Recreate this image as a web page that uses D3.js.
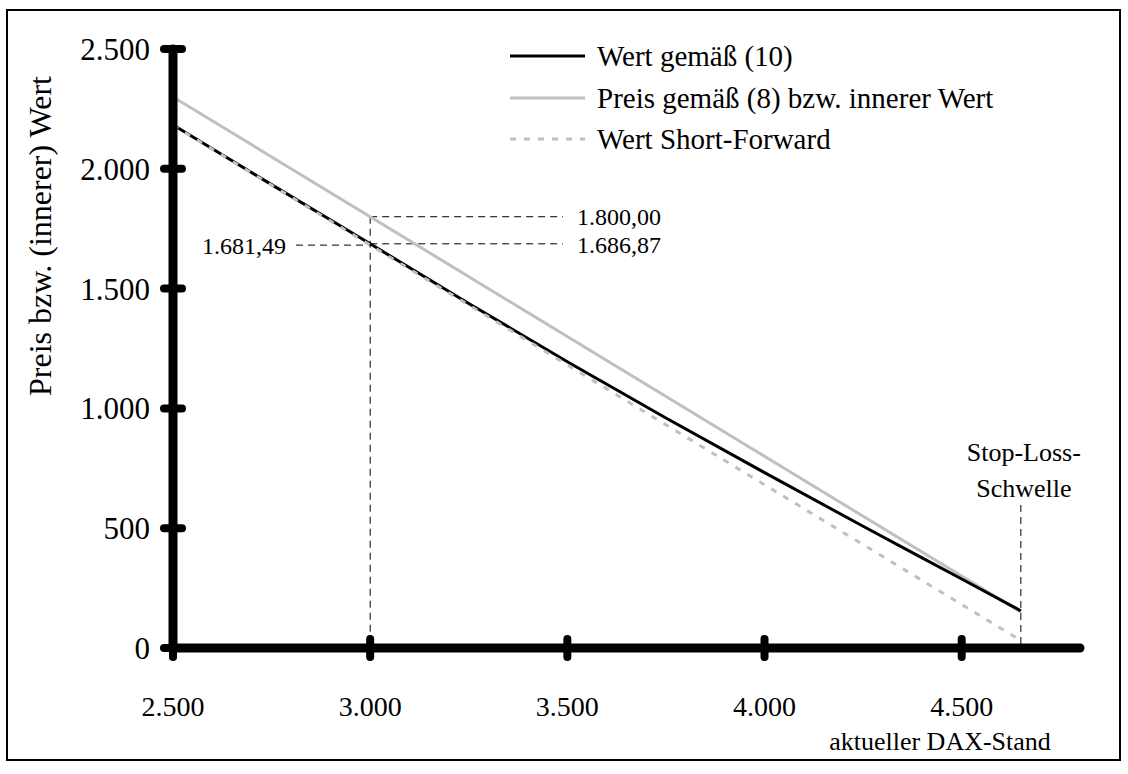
<!DOCTYPE html>
<html><head><meta charset="utf-8">
<script src="https://cdn.jsdelivr.net/npm/d3@7"></script>
<style>body{margin:0;background:#fff}svg{display:block}text{font-family:"Liberation Serif","Times New Roman",serif;fill:#000}</style>
</head><body><svg id="c" width="1128" height="774"></svg>
<script>
// data
const xTicks = [2500, 3000, 3500, 4000, 4500];
const xTickLabels = ["2.500", "3.000", "3.500", "4.000", "4.500"];
const yTicks = [0, 500, 1000, 1500, 2000, 2500];
const yTickLabels = ["0", "500", "1.000", "1.500", "2.000", "2.500"];
const daxWert10 = [2500, 2750, 3000, 3250, 3500, 3750, 4000, 4250, 4500, 4650];
const wert10 = [2183, 1934, 1686.87, 1438, 1195, 960, 732, 508, 288, 155];
const daxPreis8 = [2500, 4650];
const preis8 = [2300, 150];
const daxForward = [2500, 4650];
const shortForward = [2181.49, 31.49];
const seriesNames = ["Wert gemäß (10)", "Preis gemäß (8) bzw. innerer Wert", "Wert Short-Forward"];
const markX = 3000, markPrice = 1800.00, markWert = 1686.87, markFwd = 1681.49;
const markLabels = ["1.800,00", "1.686,87", "1.681,49"];
const stopLoss = 4650;

const svg = d3.select("#c");
svg.append("rect").attr("x", 7).attr("y", 10).attr("width", 1113).attr("height", 750)
  .attr("fill", "none").attr("stroke", "#000").attr("stroke-width", 2);

const x = d3.scaleLinear().domain([2500, 4800]).range([173, 1080]);
const y = d3.scaleLinear().domain([0, 2500]).range([648, 49]);

// annotation dashed lines
const ann = svg.append("g").attr("stroke", "#000").attr("stroke-width", 1).attr("stroke-dasharray", "7,5").attr("fill", "none");
ann.append("line").attr("x1", x(markX)).attr("x2", x(markX)).attr("y1", y(markPrice)).attr("y2", y(0));
ann.append("line").attr("x1", x(markX)).attr("x2", 563).attr("y1", y(markPrice)).attr("y2", y(markPrice));
ann.append("line").attr("x1", x(markX)).attr("x2", 563).attr("y1", y(markWert)).attr("y2", y(markWert));
ann.append("line").attr("x1", 296).attr("x2", x(markX)).attr("y1", y(markFwd)).attr("y2", y(markFwd));
ann.append("line").attr("x1", x(stopLoss)).attr("x2", x(stopLoss)).attr("y1", 505).attr("y2", y(0));

// series
const line = d3.line().x(d => x(d[0])).y(d => y(d[1]));
const zip = (a, b) => a.map((v, i) => [v, b[i]]);
svg.append("path").datum(zip(daxPreis8, preis8)).attr("d", line)
  .attr("fill", "none").attr("stroke", "#c0c0c0").attr("stroke-width", 3);
svg.append("path").datum(zip(daxWert10, wert10)).attr("d", d3.line().x(d => x(d[0])).y(d => y(d[1])).curve(d3.curveMonotoneX))
  .attr("fill", "none").attr("stroke", "#000").attr("stroke-width", 3);
svg.append("path").datum(zip(daxForward, shortForward)).attr("d", line)
  .attr("fill", "none").attr("stroke", "#c0c0c0").attr("stroke-width", 3).attr("stroke-dasharray", "6,8");

// axes
const axG = svg.append("g").attr("stroke", "#000").attr("stroke-linecap", "round");
axG.append("line").attr("x1", x(2500)).attr("x2", x(2500)).attr("y1", y(2500)).attr("y2", y(0)).attr("stroke-width", 9);
axG.append("line").attr("x1", x(2500)).attr("x2", x(4800)).attr("y1", y(0)).attr("y2", y(0)).attr("stroke-width", 9);
axG.selectAll(".yt").data(yTicks).enter().append("line")
  .attr("x1", x(2500) - 9).attr("x2", x(2500) + 9).attr("y1", d => y(d)).attr("y2", d => y(d)).attr("stroke-width", 8);
axG.selectAll(".xt").data(xTicks).enter().append("line")
  .attr("x1", d => x(d)).attr("x2", d => x(d)).attr("y1", y(0) - 9).attr("y2", y(0) + 9).attr("stroke-width", 8);

svg.selectAll(".ytl").data(yTicks).enter().append("text")
  .attr("x", 150).attr("y", d => y(d) + 11).attr("text-anchor", "end").attr("font-size", 31)
  .text((d, i) => yTickLabels[i]);
svg.selectAll(".xtl").data(xTicks).enter().append("text")
  .attr("x", d => x(d)).attr("y", 716).attr("text-anchor", "middle").attr("font-size", 28)
  .text((d, i) => xTickLabels[i]);

svg.append("text").attr("transform", "translate(51,236) rotate(-90)").attr("text-anchor", "middle")
  .attr("font-size", 32).text("Preis bzw. (innerer) Wert");
svg.append("text").attr("x", 940).attr("y", 750).attr("text-anchor", "middle").attr("font-size", 26)
  .text("aktueller DAX-Stand");

// annotation labels
svg.append("text").attr("x", 577).attr("y", y(markPrice) + 8).attr("font-size", 24).text(markLabels[0]);
svg.append("text").attr("x", 577).attr("y", y(markWert) + 9).attr("font-size", 24).text(markLabels[1]);
svg.append("text").attr("x", 286).attr("y", y(markFwd) + 9).attr("text-anchor", "end").attr("font-size", 24).text(markLabels[2]);
svg.append("text").attr("x", x(stopLoss) + 3).attr("y", 461).attr("text-anchor", "middle").attr("font-size", 26).text("Stop-Loss-");
svg.append("text").attr("x", x(stopLoss) + 3).attr("y", 497).attr("text-anchor", "middle").attr("font-size", 26).text("Schwelle");

// legend
const leg = svg.append("g");
const legY = [56, 98, 139];
const legStroke = ["#000", "#c0c0c0", "#c0c0c0"];
const legDash = [null, null, "6,8"];
seriesNames.forEach((n, i) => {
  leg.append("line").attr("x1", 510).attr("x2", 585).attr("y1", legY[i]).attr("y2", legY[i])
    .attr("stroke", legStroke[i]).attr("stroke-width", 3).attr("stroke-dasharray", legDash[i]);
  leg.append("text").attr("x", 597).attr("y", legY[i] + 10).attr("font-size", 29).text(n);
});
</script></body></html>
